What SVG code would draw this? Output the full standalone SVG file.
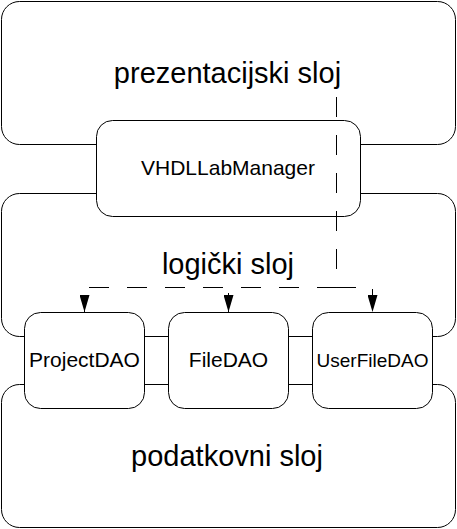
<svg xmlns="http://www.w3.org/2000/svg" width="457" height="529" viewBox="0 0 457 529">
<style>
.box{fill:#fff;stroke:#000;stroke-width:1}
.big{font-family:"Liberation Sans",Arial,sans-serif;font-size:29px;fill:#000;text-anchor:middle}
.mid{font-family:"Liberation Sans",Arial,sans-serif;font-size:21px;fill:#000;text-anchor:middle}
.con{fill:none;stroke:#000;stroke-width:1;stroke-dasharray:20,18}
</style>
<defs>
<marker id="arr" markerWidth="17" markerHeight="10" refX="17" refY="5" orient="auto" markerUnits="userSpaceOnUse" viewBox="0 0 17 10">
<path d="M0,0 L17,5 L0,10 Z" fill="#000" stroke="none"/>
</marker>
</defs>
<rect width="457" height="529" fill="#fff"/>
<g id="prezentacijski">
<rect class="box" x="1.5" y="1.5" width="454" height="143" rx="18"/>
<text class="big" x="227.5" y="83">prezentacijski sloj</text>
</g>
<g id="logicki">
<rect class="box" x="1.5" y="193.5" width="454" height="143" rx="18"/>
<text class="big" x="228" y="274">logički sloj</text>
</g>
<g id="podatkovni">
<rect class="box" x="1.5" y="384.5" width="454" height="143" rx="18"/>
<text class="big" x="227" y="466">podatkovni sloj</text>
</g>
<g id="vhdllabmanager">
<rect class="box" x="96.5" y="120.5" width="264" height="96" rx="16"/>
<text class="mid" x="228" y="175">VHDLLabManager</text>
</g>
<g id="projectdao">
<rect class="box" x="24.5" y="312.5" width="120" height="96" rx="16"/>
<text class="mid" x="84.5" y="367">ProjectDAO</text>
</g>
<g id="filedao">
<rect class="box" x="168.5" y="312.5" width="120" height="96" rx="16"/>
<text class="mid" x="228.5" y="367">FileDAO</text>
</g>
<g id="userfiledao">
<rect class="box" x="312.5" y="312.5" width="120" height="96" rx="16"/>
<text class="mid" x="372.5" y="367" style="font-size:19px">UserFileDAO</text>
</g>
<g id="connectors">
<path class="con" d="M336.5,97 V287.5 H84.5 V312" marker-end="url(#arr)"/>
<path class="con" d="M336.5,97 V287.5 H228.5 V312" marker-end="url(#arr)"/>
<path class="con" d="M336.5,97 V287.5 H372.5 V312" marker-end="url(#arr)"/>
</g>
</svg>
